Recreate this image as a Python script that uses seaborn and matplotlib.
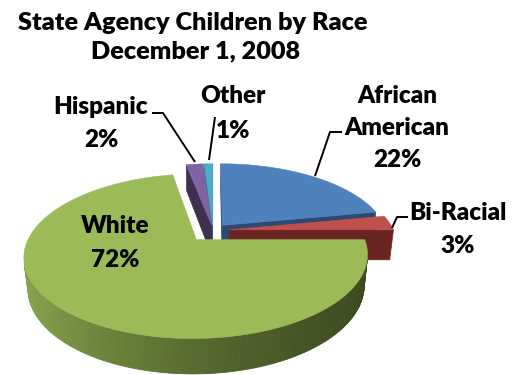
import numpy as np
import matplotlib
matplotlib.use("Agg")
import matplotlib.pyplot as plt
import seaborn as sns
from matplotlib.patches import Polygon
from matplotlib.colors import to_rgb

# Race breakdown, listed clockwise starting at 12 o'clock
groups = ["African American", "Bi-Racial", "White", "Hispanic", "Other"]
percent = [22, 3, 72, 2, 1]
label_lines = [["African", "American"], ["Bi-Racial"], ["White"], ["Hispanic"], ["Other"]]

title_main = "State Agency Children by Race"
title_date = "December 1, 2008"

sns.set_theme(style="white")
plt.rcParams["font.family"] = ["Lato", "DejaVu Sans"]

top_colors = sns.color_palette(["#4F81BD", "#C0504D", "#9BBB59", "#8064A2", "#4BACC6"])
wall_light = sns.color_palette(["#3A5F8E", "#7A2B29", "#8CA94F", "#4A3A60", "#2F7C91"])
wall_dark = sns.color_palette(["#2A4870", "#632321", "#3C4B1F", "#3B2E4E", "#22606F"])
face_colors = sns.color_palette(["#2C4B73", "#6A2422", "#4F6228", "#3E3051", "#236577"])
explode = [0.09, 0.10, 0.155, 0.07, 0.07]

# simple perspective camera looking down on the pie
ELEV = np.radians(27.3)
DIST = 4.55
FOCAL = 748.0
ORIGIN = (213.0, 230.5)
THICK = 0.21
CAM = np.array([0.0, DIST * np.sin(ELEV), -DIST * np.cos(ELEV)])


def project(x, y, z):
    depth = DIST - y * np.sin(ELEV) + z * np.cos(ELEV)
    up = y * np.cos(ELEV) + z * np.sin(ELEV)
    return ORIGIN[0] + FOCAL * x / depth, ORIGIN[1] - FOCAL * up / depth


def facing(point, normal):
    return np.dot(CAM - np.asarray(point), np.asarray(normal)) > 0


def lerp(c0, c1, w):
    a, b = np.array(to_rgb(c0)), np.array(to_rgb(c1))
    return tuple(a + (b - a) * w)


fig = plt.figure(figsize=(5.19, 3.75), dpi=100)
ax = fig.add_axes([0, 0, 1, 1])
ax.set_xlim(0, 519)
ax.set_ylim(375, 0)
ax.axis("off")

frac = np.array(percent, dtype=float) / sum(percent)
edges = 90 - 360 * np.concatenate([[0], np.cumsum(frac)])

slices = []
for i in range(len(percent)):
    lo, hi = edges[i + 1], edges[i]
    mid = np.radians((lo + hi) / 2)
    cx, cz = explode[i] * np.cos(mid), explode[i] * np.sin(mid)
    order_z = cz + 0.5 * np.sin(mid)
    slices.append((order_z, i, lo, hi, cx, cz))


def quad(p0, p1):
    return [project(p0[0], 0, p0[1]), project(p1[0], 0, p1[1]),
            project(p1[0], -THICK, p1[1]), project(p0[0], -THICK, p0[1])]


# paint the farthest slices first
for order_z, i, lo, hi, cx, cz in sorted(slices, key=lambda s: -s[0]):
    n = max(3, int(abs(hi - lo)) + 2)
    t = np.radians(np.linspace(lo, hi, n))
    rx, rz = cx + np.cos(t), cz + np.sin(t)

    # radial cut faces
    for ang, sgn in ((np.radians(hi), 1), (np.radians(lo), -1)):
        normal = (-sgn * np.sin(ang), 0, sgn * np.cos(ang))
        rim = (cx + np.cos(ang), cz + np.sin(ang))
        midp = ((cx + rim[0]) / 2, -THICK / 2, (cz + rim[1]) / 2)
        if facing(midp, normal):
            ax.add_patch(Polygon(quad((cx, cz), rim), closed=True,
                                 facecolor=face_colors[i], edgecolor=face_colors[i], lw=0.5))

    # outer wall, shaded lighter toward the left
    for k in range(n - 1):
        tm = (t[k] + t[k + 1]) / 2
        normal = (np.cos(tm), 0, np.sin(tm))
        pm = (cx + np.cos(tm), -THICK / 2, cz + np.sin(tm))
        if not facing(pm, normal):
            continue
        w = ((1 - np.cos(tm)) / 2) ** 1.5
        col = lerp(wall_dark[i], wall_light[i], w)
        ax.add_patch(Polygon(quad((rx[k], rz[k]), (rx[k + 1], rz[k + 1])), closed=True,
                             facecolor=col, edgecolor=col, lw=0.6))

    # top face
    top = [project(cx, 0, cz)] + [project(a, 0, b) for a, b in zip(rx, rz)]
    ax.add_patch(Polygon(top, closed=True, facecolor=top_colors[i],
                         edgecolor=top_colors[i], lw=0.4))

# titles
title_kw = dict(ha="center", va="baseline", fontsize=18.2, fontweight="heavy", color="black")
ax.text(193, 30, title_main, **title_kw)
ax.text(196, 58, title_date, **title_kw)

# data labels: x centre and baseline of each line
label_x = [397, 458, 115, 101, 233]
label_base = [[103, 135, 167], [220, 253], [233, 267], [114, 147], [103, 138]]
for i in range(len(percent)):
    lines = label_lines[i] + [f"{percent[i]}%"]
    for txt, yb in zip(lines, label_base[i]):
        ax.text(label_x[i], yb, txt, ha="center", va="baseline",
                fontsize=17.5, fontweight="heavy", color="black")

# leader lines
leaders = [
    [(342, 132), (330, 132), (315, 176)],
    [(408, 217), (397, 217), (392, 228)],
    [],
    [(152, 113), (163, 113), (195, 162)],
    [(215, 117), (209, 160)],
]
for pts in leaders:
    if pts:
        xs, ys = zip(*pts)
        ax.plot(xs, ys, color="black", lw=1.4, solid_capstyle="butt")

fig.savefig("out.png", dpi=100)
